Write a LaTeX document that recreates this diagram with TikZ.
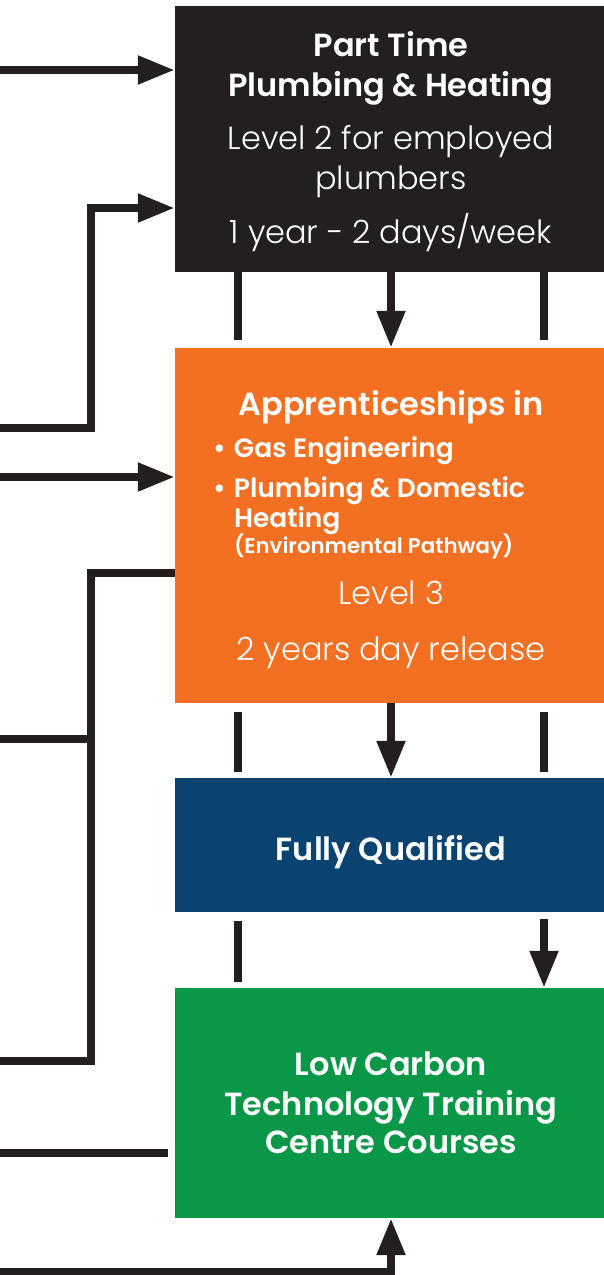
\documentclass[tikz,border=0pt]{standalone}
\usepackage{fontspec}
\setmainfont{Poppins}
\newfontfamily\popbold{Poppins SemiBold}
\newfontfamily\poplight{Poppins Light}
\usetikzlibrary{arrows.meta,positioning,calc}
\usepackage{xcolor}

\definecolor{ptblack}{RGB}{35,31,32}
\definecolor{apporange}{RGB}{243,111,33}
\definecolor{fqblue}{RGB}{11,67,112}
\definecolor{lcgreen}{RGB}{11,151,72}

\newcommand{\ptHead}{\popbold\fontsize{32}{40}\selectfont}
\newcommand{\ptBody}{\poplight\fontsize{32}{40}\selectfont}
\newcommand{\ptBullet}{\popbold\fontsize{26.5}{40}\selectfont}
\newcommand{\ptSmall}{\popbold\fontsize{21.3}{40}\selectfont}

\begin{document}
\begin{tikzpicture}[x=1pt, y=-1pt, >={Triangle[length=37pt,width=27pt]},
  box/.style={rectangle, minimum width=432pt, inner sep=0pt, text=white,
    align=center, font=\fontsize{32}{40}\selectfont},
  link/.style={draw=ptblack, line width=8pt}]
  \useasboundingbox (0,0) rectangle (603,1275);
  % Boxes
  \node[box, fill=ptblack, minimum height=266pt] (parttime) at (391,139)
    {\mbox{}\\[-10.5pt]
     \ptHead Part Time\\
     \ptHead Plumbing \& Heating\\[13pt]
     \ptBody Level 2 for employed\\
     \ptBody plumbers\\[14pt]
     \ptBody 1 year - 2 days/week};
  \node[box, fill=apporange, minimum height=355pt] (appr) at (391,525.5)
    {\mbox{}\\[-6.5pt]
     \ptHead Apprenticeships in\\[2pt]
     \makebox[356pt][l]{\ptBullet\makebox[21pt][l]{•}Gas Engineering}\\
     \makebox[356pt][l]{\ptBullet\makebox[21pt][l]{•}Plumbing \& Domestic}\\[-10pt]
     \makebox[356pt][l]{\ptBullet\hspace{21pt}Heating}\\[-14pt]
     \makebox[356pt][l]{\ptSmall\hspace{21pt}(Environmental Pathway)}\\[11pt]
     \ptBody Level 3\\[16pt]
     \ptBody 2 years day release};
  \node[box, fill=fqblue, minimum height=134pt, text height=38pt,
    text depth=8pt] (fq) at (391,845)
    {\ptHead Fully Qualified};
  \node[box, fill=lcgreen, minimum height=230pt] (lowcarbon) at (391,1103)
    {\ptHead Low Carbon\\
     \ptHead Technology Training\\[-2pt]
     \ptHead Centre Courses};

  % Free ends on the left edge
  \coordinate (in1) at (0,70);
  \coordinate (in2) at (0,428);
  \coordinate (in2turn) at (91,208);
  \coordinate (in3) at (0,477);
  \coordinate (out1) at (0,739);
  \coordinate (out2) at (0,1061);
  \coordinate (out3) at (0,1153);
  \coordinate (in4) at (0,1272);
  \coordinate (fqout) at (544,919);

  % Lines in from the left
  \draw[link,->] (in1) -- (in1 -| parttime.west);
  \draw[link,->] (in2) -| (in2turn) -- (in2turn -| parttime.west);
  \draw[link,->] (in3) -- (in3 -| appr.west);
  \draw[link] (appr.west |- 0,573) -| (91,1061) -- (out2);
  \draw[link] (out1) -- (91,739);
  \draw[link] (out3) -- ($(out3 -| lowcarbon.west)+(-7,0)$);
  \draw[link,->] (in4) -| (lowcarbon.south);

  % Down the column
  \draw[link,->] (parttime.south) -- (appr.north);
  \draw[link,->] (appr.south) -- (fq.north);
  \draw[link,->] (fqout) -- (fqout |- lowcarbon.north);
  \foreach \ya/\yb in {272/340, 712/772} {
    \draw[link] (238,\ya) -- (238,\yb);
    \draw[link] (544,\ya) -- (544,\yb);
  }
  \draw[link] (238,921) -- (238,982);
\end{tikzpicture}
\end{document}
